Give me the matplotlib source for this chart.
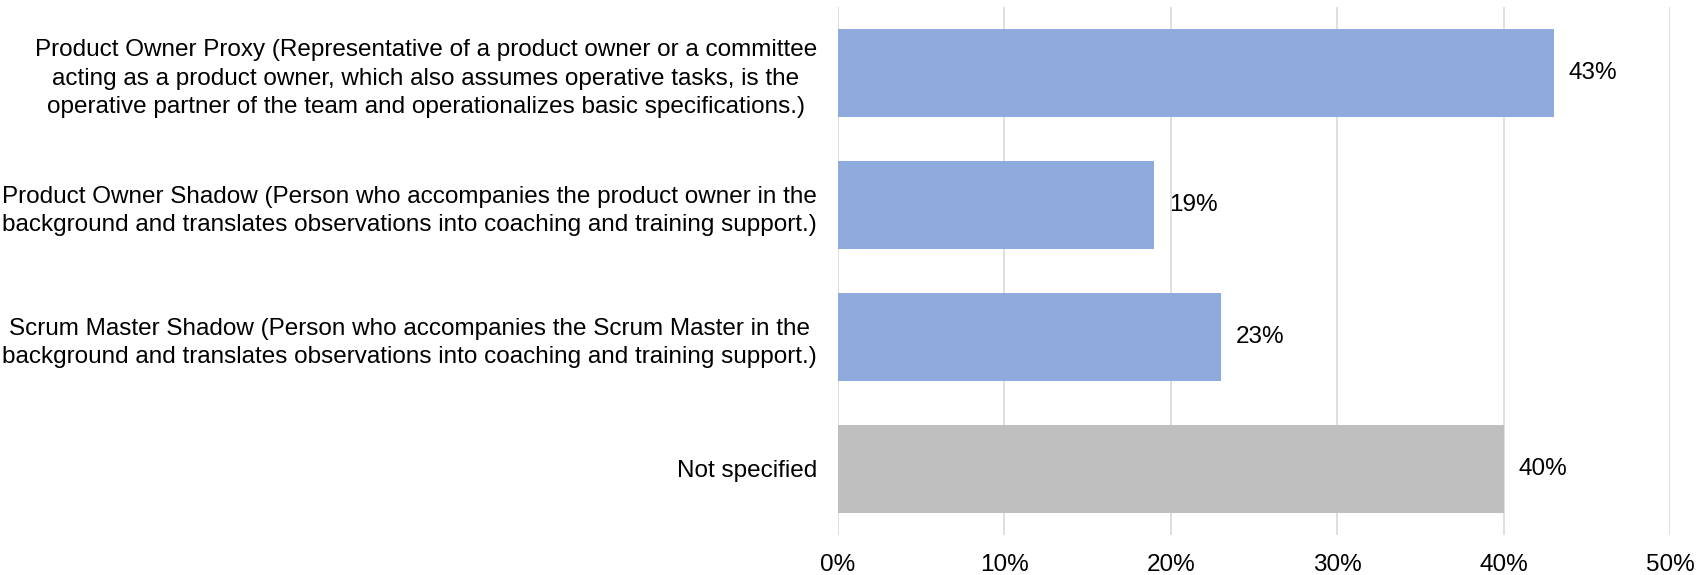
import matplotlib.pyplot as plt
from matplotlib.ticker import PercentFormatter

plt.rcParams['font.family'] = ['Liberation Sans', 'DejaVu Sans']

categories = [
    'Product Owner Proxy (Representative of a product owner or a committee\n'
    'acting as a product owner, which also assumes operative tasks, is the\n'
    'operative partner of the team and operationalizes basic specifications.)',
    'Product Owner Shadow (Person who accompanies the product owner in the\n'
    'background and translates observations into coaching and training support.)',
    'Scrum Master Shadow (Person who accompanies the Scrum Master in the\n'
    'background and translates observations into coaching and training support.)',
    'Not specified',
]
values = [43, 19, 23, 40]
colors = ['#8FAADC', '#8FAADC', '#8FAADC', '#BFBFBF']
xticks = [0, 10, 20, 30, 40, 50]

FS = 17.5

fig = plt.figure(figsize=(17.04, 5.75), dpi=100)
ax = fig.add_axes([838 / 1704, 40 / 575, 832 / 1704, 528 / 575])

ypos = list(range(len(categories)))
ax.barh(ypos, values, height=0.667, color=colors, zorder=2)
for y, v in zip(ypos, values):
    ax.text(v + 0.9, y, f'{v}%', va='center', ha='left', fontsize=FS, color='#000000')

ax.set_ylim(len(categories) - 0.5, -0.5)
ax.set_xlim(0, 50)
ax.set_xticks(xticks)
ax.xaxis.set_major_formatter(PercentFormatter(decimals=0))
ax.set_yticks(ypos)
ax.set_yticklabels(categories, fontsize=FS, multialignment='center', linespacing=1.38)
ax.tick_params(axis='x', length=0, pad=13.5, labelsize=FS)
ax.tick_params(axis='y', length=0, pad=15)
ax.grid(axis='x', color='#D9D9D9', linewidth=1.2, zorder=0)
ax.set_axisbelow(True)
for s in ax.spines.values():
    s.set_visible(False)

fig.savefig('out.png', dpi=100)
